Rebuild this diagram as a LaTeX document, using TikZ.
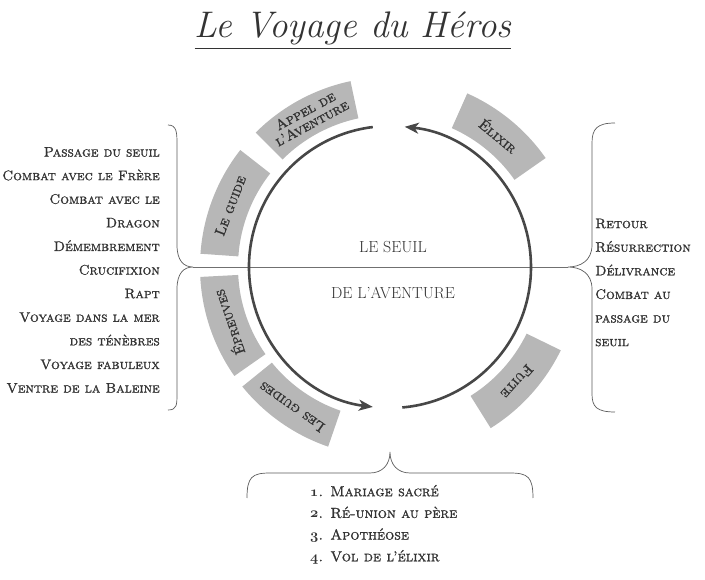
\documentclass[tikz,border=0pt]{standalone}
\usepackage{amsmath}
\usepackage{fontspec}
\usepackage{tikz}
\usetikzlibrary{arrows.meta}
\usepackage{tkz-euclide}

\newfontfamily\capsfont{lmromancaps10-regular}[Extension=.otf, FakeBold=1.3]
\newcommand\onum[1]{{\fontencoding{OML}\fontfamily{cmm}\fontseries{b}\fontshape{it}\selectfont #1}}
\definecolor{ink}{HTML}{333333}
\definecolor{boxgray}{HTML}{B7B7B7}

\begin{document}
\begin{tikzpicture}[x=1pt, y=1pt,
    every node/.style={text=ink},
    cycleline/.style={draw=ink!90!white, line width=2.6pt, -{Stealth[length=14pt,width=11pt,inset=4pt]}},
    bracket/.style={draw=ink!80!white, line width=0.7pt},
    stagebox/.style={fill=boxgray},
    stagetxt/.style={font=\fontsize{14.5}{14}\selectfont\capsfont, align=center, inner sep=0pt},
    listtxt/.style={font=\fontsize{13.8}{23.6}\selectfont\capsfont, inner sep=0pt},
    numtxt/.style={font=\fontsize{14.5}{21.7}\selectfont\capsfont, inner sep=0pt}]
  \useasboundingbox (-390,267) rectangle (315,-313);
  \tkzDefPoints{0/0/O, -197/0/L, 178/0/R, 0/-185/B}
  % titre
  \node[font=\fontsize{37}{39}\selectfont\itshape] (title) at (-37,236) {\underline{Le Voyage du Héros}};
  % le seuil
  \tkzDrawSegments[draw=ink!70!white, line width=0.6pt](L,R)
  \node[font=\fontsize{16}{18}\selectfont] (seuil) at (3,20) {LE SEUIL};
  \node[font=\fontsize{16}{18}\selectfont] (aventure) at (3,-26) {DE L’AVENTURE};
  % cases autour du cercle
  \foreach \a/\b/\txt [count=\i] in {35/66/{Élixir}, 102/135/{Appel de\\l’Aventure}, 142/176/{Le guide}, 183/215/{Épreuves}, 219/251/{Les guides}, 302/334/{Fuite}}{
    \fill[stagebox] (\a:152) arc[start angle=\a, end angle=\b, radius=152] -- (\b:190) arc[start angle=\b, end angle=\a, radius=190] -- cycle;
    \node[stagetxt, rotate={(\a+\b)/2-90}] (stage\i) at ({(\a+\b)/2}:171) {\txt};
  }
  % cycle
  \draw[cycleline] (97:141) arc[start angle=97, end angle=263, radius=141];
  \draw[cycleline] (275:141) arc[start angle=275, end angle=444, radius=141];
  % accolades
  \draw[bracket] (-222,142) .. controls (-213,142) and (-213,134) .. (-213,122) -- (-213,22) .. controls (-213,6) and (-206,0) .. (L) .. controls (-206,0) and (-213,-6) .. (-213,-22) -- (-213,-126) .. controls (-213,-138) and (-213,-143) .. (-222,-143);
  \draw[bracket] (225,144) .. controls (207,144) and (202,138) .. (202,124) -- (202,22) .. controls (202,6) and (190,0) .. (R) .. controls (190,0) and (202,-6) .. (202,-22) -- (202,-127) .. controls (202,-140) and (207,-145) .. (225,-145);
  \draw[bracket] (-143,-231) .. controls (-143,-210) and (-138,-206) .. (-120,-206) -- (-20,-206) .. controls (-8,-206) and (0,-198) .. (B) .. controls (0,-198) and (8,-206) .. (20,-206) -- (120,-206) .. controls (138,-206) and (143,-210) .. (143,-231);
  % listes
  \node[listtxt, anchor=east, align=right] (descente) at (-230,-3) {Passage du seuil\\Combat avec le Frère\\Combat avec le\\Dragon\\Démembrement\\Crucifixion\\Rapt\\Voyage dans la mer\\des ténèbres\\Voyage fabuleux\\Ventre de la Baleine};
  \node[listtxt, anchor=west, align=left] (retour) at (205,-15.5) {Retour\\Résurrection\\Délivrance\\Combat au\\passage du\\seuil};
  \node[numtxt, anchor=west, align=left] (epreuve) at (-80,-257.5) {\onum{1}. Mariage sacré\\\onum{2}. Ré-union au père\\\onum{3}. Apothéose\\\onum{4}. Vol de l’élixir};
\end{tikzpicture}
\end{document}
